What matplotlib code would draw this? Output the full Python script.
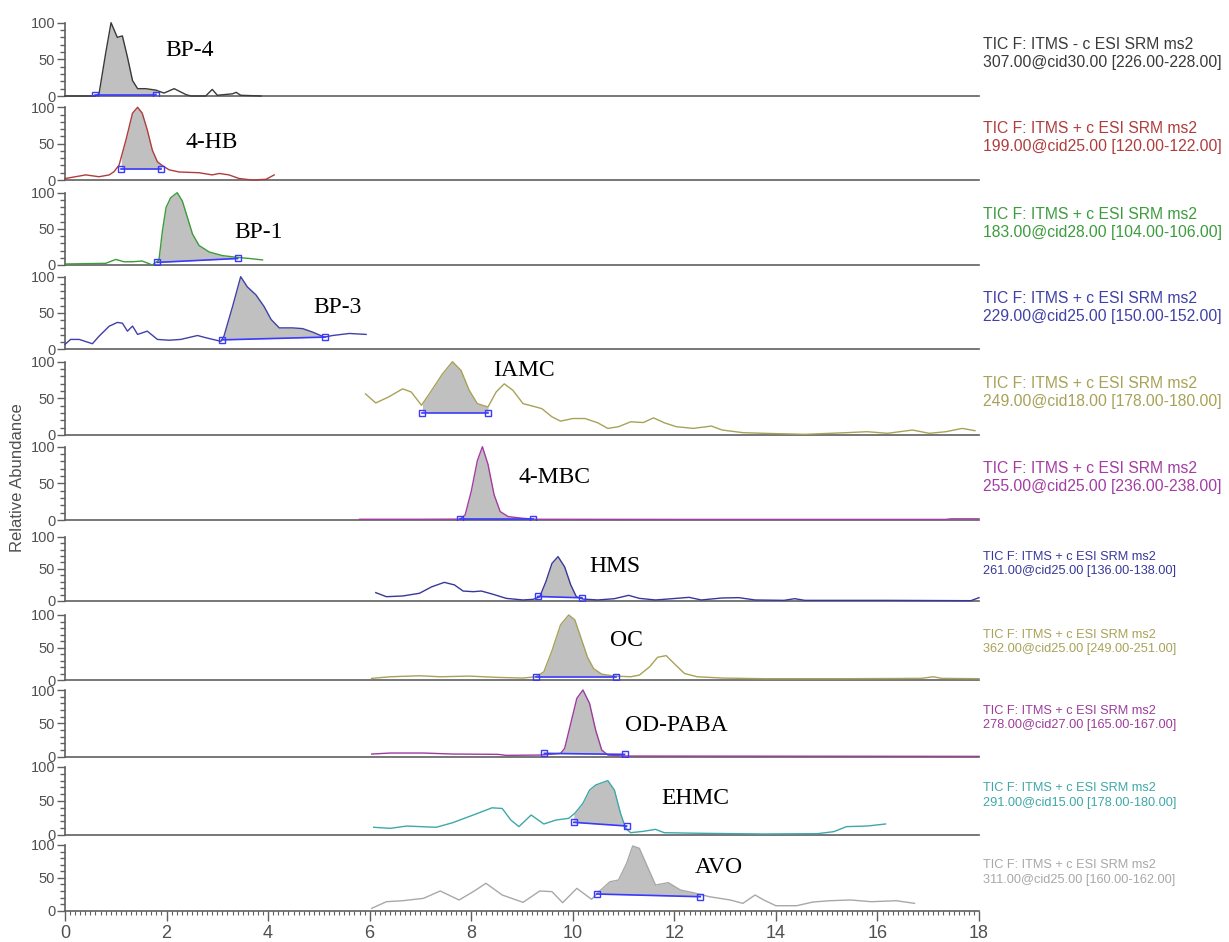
import numpy as np
import matplotlib
matplotlib.use('Agg')
import matplotlib.pyplot as plt
from matplotlib.ticker import MultipleLocator

# compound names and trace colours
compounds = ['BP-4', '4-HB', 'BP-1', 'BP-3', 'IAMC', '4-MBC', 'HMS', 'OC', 'OD-PABA', 'EHMC', 'AVO']
colors = ['#3a3a3a', '#b03c3c', '#3c9c3c', '#4040a8', '#a8a258', '#a43ca4',
          '#38389a', '#a8a258', '#9c3c9c', '#3ea8a8', '#a8a8a8']

scan_info = [
    'TIC F: ITMS - c ESI SRM ms2\n307.00@cid30.00 [226.00-228.00]',
    'TIC F: ITMS + c ESI SRM ms2\n199.00@cid25.00 [120.00-122.00]',
    'TIC F: ITMS + c ESI SRM ms2\n183.00@cid28.00 [104.00-106.00]',
    'TIC F: ITMS + c ESI SRM ms2\n229.00@cid25.00 [150.00-152.00]',
    'TIC F: ITMS + c ESI SRM ms2\n249.00@cid18.00 [178.00-180.00]',
    'TIC F: ITMS + c ESI SRM ms2\n255.00@cid25.00 [236.00-238.00]',
    'TIC F: ITMS + c ESI SRM ms2\n261.00@cid25.00 [136.00-138.00]',
    'TIC F: ITMS + c ESI SRM ms2\n362.00@cid25.00 [249.00-251.00]',
    'TIC F: ITMS + c ESI SRM ms2\n278.00@cid27.00 [165.00-167.00]',
    'TIC F: ITMS + c ESI SRM ms2\n291.00@cid15.00 [178.00-180.00]',
    'TIC F: ITMS + c ESI SRM ms2\n311.00@cid25.00 [160.00-162.00]',
]

# retention time (min) and relative abundance (%) for each SRM trace
rt_bp4 = [0, 0.60, 0.67, 0.80, 0.907, 1.03, 1.13, 1.23, 1.33, 1.43, 1.59, 1.79, 1.95, 2.15, 2.38,
          2.48, 2.77, 2.90, 3.00, 3.30, 3.37, 3.46, 3.86]
ab_bp4 = [0, 0, 3, 58, 100, 80, 82, 53, 21, 10, 10, 8, 4, 10, 2, 0, 0, 9, 1, 3, 5, 1, 0]

rt_4hb = [0, 0.41, 0.67, 0.87, 0.966, 1.065, 1.20, 1.33, 1.43, 1.52, 1.62, 1.72, 1.82, 1.92, 2.05,
          2.25, 2.64, 2.90, 3.04, 3.23, 3.43, 3.69, 3.96, 4.12]
ab_4hb = [2, 7, 4.5, 7, 11.5, 20.6, 55, 92, 100, 92, 69, 41, 25, 19.7, 14, 11, 10, 7, 9, 7, 2, 0, 1, 7]

rt_bp1 = [0, 0.80, 1.00, 1.16, 1.33, 1.52, 1.72, 1.85, 1.92, 1.99, 2.08, 2.21, 2.31, 2.41, 2.51,
          2.64, 2.84, 3.10, 3.40, 3.63, 3.89]
ab_bp1 = [1.4, 2.3, 7.7, 4.5, 4.5, 5.5, 0, 6.8, 48, 79.5, 93, 100, 88.6, 66, 43, 27, 18, 13, 10.5, 9, 7]

rt_bp3 = [0, 0.11, 0.28, 0.54, 0.67, 0.87, 1.03, 1.13, 1.23, 1.33, 1.43, 1.62, 1.82, 2.05, 2.28,
          2.61, 2.77, 3.07, 3.13, 3.30, 3.46, 3.59, 3.76, 3.92, 4.06, 4.22, 4.48, 4.68, 4.88, 5.11,
          5.27, 5.60, 5.93]
ab_bp3 = [6.8, 13.6, 13.6, 7.7, 18, 31.8, 37, 36, 25, 32, 20.5, 25, 13.6, 12.5, 13.6, 19, 16, 11,
          18, 59, 100, 86, 75, 59, 41, 29.5, 29.5, 28.5, 23.6, 16.8, 19, 21.8, 20.5]

rt_iamc = [5.92, 6.12, 6.37, 6.65, 6.82, 7.02, 7.22, 7.43, 7.63, 7.80, 7.96, 8.12, 8.33, 8.49, 8.65,
           8.82, 9.02, 9.22, 9.39, 9.59, 9.76, 10.00, 10.24, 10.49, 10.69, 10.90, 11.14, 11.39,
           11.59, 11.80, 12.04, 12.37, 12.73, 12.94, 13.35, 13.76, 14.57, 15.39, 15.80, 16.20,
           16.69, 17.02, 17.35, 17.67, 17.92]
ab_iamc = [56, 43.7, 51.8, 63, 58.6, 40.5, 60.8, 83, 100, 88, 61, 42.8, 38.2, 58.6, 69.8, 61, 42.8,
           39.2, 36, 24.8, 18.9, 22.5, 22.5, 16.7, 9, 11.3, 18, 17, 23.4, 16.7, 11.3, 9, 12.2, 6.8,
           3.2, 2.3, 0.9, 3.2, 4.5, 2.3, 6.8, 2.3, 4.5, 9, 5.9]

rt_4mbc = [5.8, 7.0, 7.78, 7.88, 8.00, 8.12, 8.22, 8.33, 8.45, 8.57, 8.73, 9.02, 9.27, 12.0, 17.35,
           17.45, 18.0]
ab_4mbc = [1, 1, 1.2, 6.9, 39, 80.7, 100, 76, 34.6, 11.5, 4.6, 2.3, 1, 0.8, 0.8, 1.6, 1.6]

rt_hms = [6.12, 6.33, 6.65, 6.98, 7.22, 7.47, 7.67, 7.84, 8.04, 8.20, 8.41, 8.69, 9.02, 9.22, 9.35,
          9.47, 9.59, 9.71, 9.84, 9.96, 10.07, 10.20, 10.49, 10.82, 11.10, 11.31, 11.63, 11.96,
          12.29, 12.53, 12.94, 13.27, 13.59, 14.16, 14.37, 14.57, 16.20, 17.84, 18.0]
ab_hms = [13, 6.7, 7.8, 12, 22, 29, 25, 15.5, 14.5, 15.5, 10.9, 4.1, 1.6, 2.6, 6.7, 30, 58.5, 69, 53,
          25, 6.7, 3, 1.6, 3.6, 8.8, 4.1, 1.6, 3.6, 5.7, 1.6, 4.7, 5.2, 1.6, 1, 3.6, 1, 1, 0.5, 5.2]

rt_oc = [6.04, 6.41, 6.98, 7.39, 7.96, 8.53, 9.02, 9.27, 9.43, 9.59, 9.76, 9.92, 10.04, 10.16, 10.29,
         10.41, 10.57, 10.82, 11.14, 11.31, 11.51, 11.67, 11.84, 12.00, 12.20, 12.45, 12.94, 13.76,
         15.39, 16.86, 17.10, 17.27, 18.0]
ab_oc = [2.5, 5, 6.5, 5, 6, 4, 3, 5, 12.5, 45, 85, 100, 92.5, 65, 35, 17.5, 9, 6, 5, 7.5, 20, 35,
         37.5, 25, 10, 5, 3, 2, 2, 2.5, 5, 2.5, 2]

rt_odpaba = [6.04, 6.41, 7.06, 7.63, 8.53, 8.69, 9.35, 9.76, 9.84, 9.96, 10.08, 10.20, 10.33, 10.45,
             10.57, 10.69, 10.98, 18.0]
ab_odpaba = [4, 5.5, 5.5, 4, 3.5, 2, 2.5, 5, 12.5, 50, 87.5, 100, 80, 40, 10, 2.5, 1, 0.5]

rt_ehmc = [6.08, 6.41, 6.73, 7.31, 7.63, 8.04, 8.41, 8.61, 8.78, 8.94, 9.18, 9.43, 9.67, 9.92, 10.04,
           10.20, 10.33, 10.45, 10.69, 10.82, 10.94, 11.04, 11.14, 11.39, 11.63, 11.80, 12.53,
           13.76, 14.82, 15.14, 15.39, 15.80, 16.16]
ab_ehmc = [11.3, 9.8, 13.2, 11.3, 18, 29.4, 40, 39, 22, 12.3, 29.4, 16.2, 22, 24.5, 31.9, 46.6, 66,
           73.5, 80, 66, 32, 9.8, 3.4, 5.4, 8.3, 3.4, 2.5, 1.5, 2, 4.9, 12.3, 13.2, 16.2]

rt_avo = [6.04, 6.33, 6.65, 7.06, 7.39, 7.76, 8.04, 8.29, 8.61, 9.02, 9.35, 9.59, 9.80, 10.08, 10.37,
          10.53, 10.73, 10.90, 11.06, 11.18, 11.31, 11.47, 11.63, 11.88, 12.12, 12.37, 12.69, 13.10,
          13.35, 13.59, 13.76, 14.00, 14.41, 14.73, 15.06, 15.47, 15.88, 16.37, 16.73]
ab_avo = [3.6, 13.7, 15.2, 18.8, 30, 16.3, 29, 41.7, 23.9, 12.7, 30, 29, 12.2, 34, 17.3, 30, 44,
          46.7, 72, 98.5, 95, 67, 39, 42.7, 31.5, 27.4, 21.3, 16.3, 11.2, 23.9, 16.3, 7.6, 7.6, 13.2,
          15.2, 16.3, 13.7, 15.2, 11.2]

traces = [(rt_bp4, ab_bp4), (rt_4hb, ab_4hb), (rt_bp1, ab_bp1), (rt_bp3, ab_bp3),
          (rt_iamc, ab_iamc), (rt_4mbc, ab_4mbc), (rt_hms, ab_hms), (rt_oc, ab_oc),
          (rt_odpaba, ab_odpaba), (rt_ehmc, ab_ehmc), (rt_avo, ab_avo)]

# integration baseline: (start rt, start level, end rt, end level)
integration = [(0.60, 2, 1.80, 2), (1.11, 15, 1.89, 15), (1.82, 3.6, 3.40, 9),
               (3.10, 13, 5.12, 16.8), (7.04, 30.6, 8.33, 30.6), (7.78, 1, 9.22, 1),
               (9.31, 7, 10.18, 5), (9.27, 5, 10.86, 5), (9.44, 5, 11.02, 3.5),
               (10.02, 18.6, 11.06, 13.2), (10.47, 25.4, 12.51, 21.3)]

# where each compound name sits (rt, abundance)
name_pos = [(1.97, 62), (2.37, 51), (3.33, 45.6), (4.90, 57.6), (8.43, 87.6), (8.93, 58),
            (10.32, 53), (10.73, 61.5), (11.02, 47.5), (11.74, 54), (12.40, 65.7)]

# panel rows in pixels: (zero line, 100 line)
rows = [(96, 22.7), (180, 107.3), (265, 192.7), (349.3, 276.7), (435, 361.7), (520, 446.7),
        (601, 536.7), (680, 615), (756.7, 690), (835, 767), (910.7, 845)]

W, H = 1229, 942
fig = plt.figure(figsize=(W / 100, H / 100), dpi=100)
plt.rcParams['font.family'] = ['Liberation Sans', 'DejaVu Sans']

left, right = 65 / W, 979 / W
axis_grey = '#606060'
label_grey = '#505050'

for i, (rt, ab) in enumerate(traces):
    zero, top = rows[i]
    ax = fig.add_axes([left, 1 - zero / H, right - left, (zero - top) / H])
    rt = np.array(rt)
    ab = np.array(ab)

    # shaded peak area between the trace and the integration baseline
    x0, y0, x1, y1 = integration[i]
    inside = (rt > x0) & (rt < x1)
    xs = np.concatenate([[x0], rt[inside], [x1]])
    ys = np.interp(xs, rt, ab)
    base = np.interp(xs, [x0, x1], [y0, y1])
    ax.fill_between(xs, ys, base, color='#c0c0c0', lw=0, zorder=1)

    ax.plot(rt, ab, color=colors[i], lw=1.0, clip_on=False, zorder=3)
    ax.plot([x0, x1], [y0, y1], color='#3a3aff', lw=1.2, zorder=4,
            marker='s', markersize=5, markerfacecolor='none', markeredgewidth=1.0)

    ax.set_xlim(0, 18)
    ax.set_ylim(0, 100)
    ax.patch.set_alpha(0)
    for s in ['top', 'right']:
        ax.spines[s].set_visible(False)
    for s in ['left', 'bottom']:
        ax.spines[s].set_color(axis_grey)
        ax.spines[s].set_linewidth(1.2)

    ax.yaxis.set_major_locator(MultipleLocator(50))
    ax.yaxis.set_minor_locator(MultipleLocator(10))
    ax.tick_params(axis='y', which='major', length=6, width=1, color=axis_grey,
                   labelcolor=label_grey, labelsize=10.5, pad=1)
    ax.tick_params(axis='y', which='minor', length=3.5, width=1, color=axis_grey)

    if i < len(traces) - 1:
        ax.tick_params(axis='x', which='both', bottom=False, labelbottom=False)
    else:
        ax.xaxis.set_major_locator(MultipleLocator(2))
        ax.xaxis.set_minor_locator(MultipleLocator(0.1))
        ax.tick_params(axis='x', which='major', length=7, width=1, color=axis_grey,
                       labelcolor=label_grey, labelsize=13, pad=3)
        ax.tick_params(axis='x', which='minor', length=3, width=0.8, color=axis_grey)

    nx, ny = name_pos[i]
    ax.text(nx, ny, compounds[i], family='Liberation Serif', fontsize=17,
            ha='left', va='center', color='black')

    small = i >= 6
    ax.text(1.0045, 0.58, scan_info[i], transform=ax.transAxes, ha='left', va='center',
            fontsize=9.2 if small else 11.3, color=colors[i], linespacing=1.25)

fig.text(18 / W, 1 - 478 / H, 'Relative Abundance', rotation=90, ha='center', va='center',
         fontsize=12, color=label_grey)

fig.savefig('out.png', dpi=100)
